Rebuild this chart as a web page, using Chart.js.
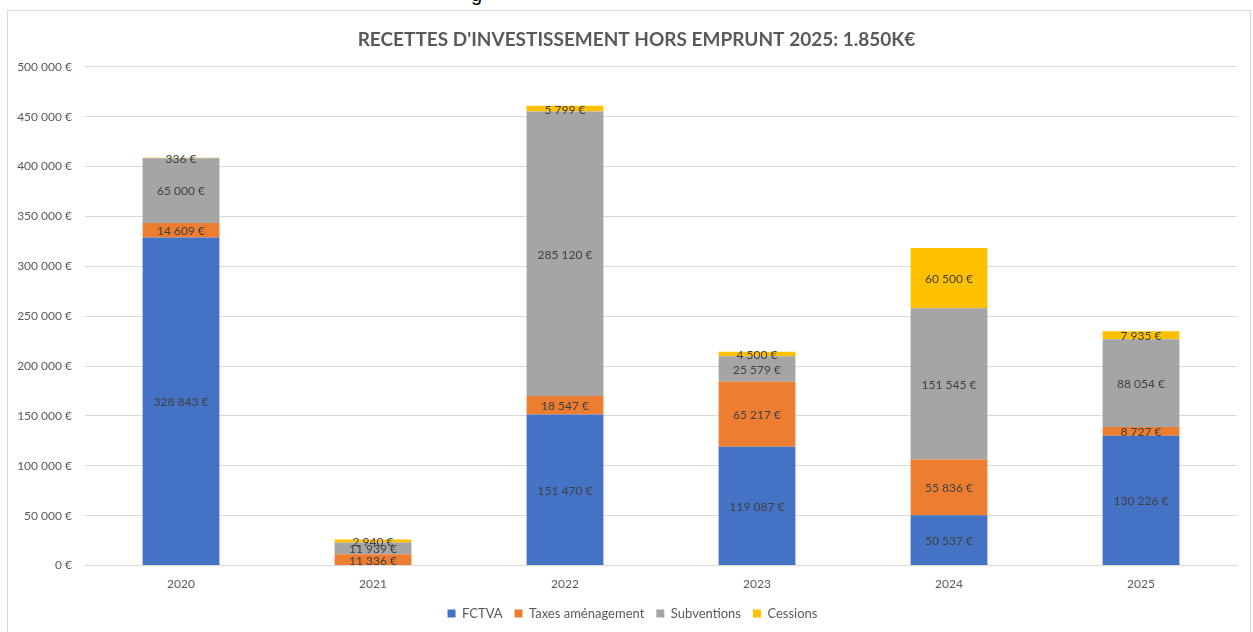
<!DOCTYPE html>
<html>
<head>
<meta charset="utf-8">
<script src="https://cdn.jsdelivr.net/npm/chart.js@4"></script>
<style>
  html, body { margin: 0; padding: 0; background: #fff; width: 1253px; height: 632px; overflow: hidden; }
  #frame { position: absolute; left: 7px; top: 10px; width: 1244px; height: 640px; border: 1px solid #d9d9d9; box-sizing: border-box; }
  #wrap { position: absolute; left: 8px; top: 11px; width: 1241px; height: 621px; }
  #frag { position: absolute; left: 471px; top: -17px; font: 20px "Liberation Sans", sans-serif; color: #000; }
</style>
</head>
<body>
<div id="frag">g</div>
<div id="frame"></div>
<div id="wrap"><canvas id="c"></canvas></div>
<script>
const years = ['2020', '2021', '2022', '2023', '2024', '2025'];
const fctva = [328843, 0, 151470, 119087, 50537, 130226];
const taxes = [14609, 11336, 18547, 65217, 55836, 8727];
const subventions = [65000, 11939, 285120, 25579, 151545, 88054];
const cessions = [336, 2940, 5799, 4500, 60500, 7935];
const seriesNames = ['FCTVA', 'Taxes aménagement', 'Subventions', 'Cessions'];
const seriesColors = ['#4472C4', '#ED7D31', '#A5A5A5', '#FFC000'];
const titleText = "RECETTES D'INVESTISSEMENT HORS EMPRUNT 2025: 1.850K€";

function fmt(v) {
  return String(Math.round(v)).replace(/\B(?=(\d{3})+(?!\d))/g, ' ') + ' €';
}

const FONT = 'Lato, "Open Sans", sans-serif';
const LEGEND_PAD = 12;
const LEGEND_TRIM = 7;

const labelPlugin = {
  id: 'barLabels',
  afterDatasetsDraw(chart) {
    const ctx = chart.ctx;
    ctx.save();
    ctx.font = '12px ' + FONT;
    ctx.fillStyle = '#404040';
    ctx.textAlign = 'center';
    ctx.textBaseline = 'middle';
    chart.data.datasets.forEach((ds, di) => {
      const meta = chart.getDatasetMeta(di);
      meta.data.forEach((bar, i) => {
        const v = ds.data[i];
        if (!v) return;
        const p = bar.getProps(['x', 'y', 'base'], true);
        const yc = (p.y + p.base) / 2;
        ctx.fillText(fmt(v), p.x, yc + 1);
      });
    });
    ctx.restore();
  }
};

// adjust title / legend placement to match the original
const shiftPlugin = {
  id: 'shiftBlocks',
  beforeLayout(chart) {
    const lg = chart.legend;
    if (lg && !lg._trimmed) {
      const f = lg.fit.bind(lg);
      lg.fit = function () { f(); this.height -= LEGEND_TRIM; };
      lg._trimmed = true;
    }
  },
  afterLayout(chart) {
    if (chart.titleBlock) { chart.titleBlock.left += 14; chart.titleBlock.right += 14; }
    if (chart.legend) {
      chart.legend.left += 10; chart.legend.right += 10;
      chart.legend.top -= LEGEND_TRIM; chart.legend.bottom -= LEGEND_TRIM;
    }
  }
};

new Chart(document.getElementById('c'), {
  type: 'bar',
  data: {
    labels: years,
    datasets: [fctva, taxes, subventions, cessions].map((d, k) => ({
      label: seriesNames[k],
      data: d,
      backgroundColor: seriesColors[k],
      borderWidth: 0,
      barPercentage: 1,
      categoryPercentage: 0.4
    }))
  },
  options: {
    responsive: true,
    maintainAspectRatio: false,
    animation: false,
    devicePixelRatio: 1,
    layout: { padding: { left: 0, right: 12, top: 0, bottom: 2 } },
    plugins: {
      title: {
        display: true,
        text: titleText,
        color: '#595959',
        font: { family: FONT, size: 19, weight: 'bold' },
        padding: { top: 17, bottom: 16 }
      },
      legend: {
        position: 'bottom',
        labels: {
          color: '#595959',
          font: { family: FONT, size: 13 },
          usePointStyle: true,
          pointStyle: 'rect',
          boxWidth: 8,
          boxHeight: 8,
          padding: LEGEND_PAD
        }
      },
      tooltip: { enabled: false }
    },
    scales: {
      x: {
        stacked: true,
        grid: { display: false, drawTicks: false },
        border: { display: true, color: '#d9d9d9' },
        ticks: { color: '#595959', font: { family: FONT, size: 12 }, padding: 11 }
      },
      y: {
        stacked: true,
        min: 0,
        max: 500000,
        afterFit(scale) { scale.width = 77; },
        grid: { color: '#d9d9d9', drawTicks: false },
        border: { display: false },
        ticks: {
          stepSize: 50000,
          color: '#595959',
          font: { family: FONT, size: 12 },
          padding: 13,
          callback: (v) => fmt(v)
        }
      }
    }
  },
  plugins: [labelPlugin, shiftPlugin]
});
</script>
</body>
</html>
